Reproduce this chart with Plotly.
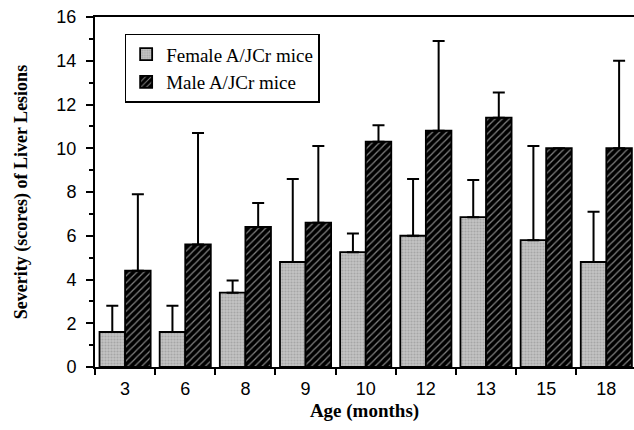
import plotly.graph_objects as go

ages = ["3", "6", "8", "9", "10", "12", "13", "15", "18"]
female = [1.6, 1.6, 3.4, 4.8, 5.25, 6.0, 6.85, 5.8, 4.8]
female_err = [1.2, 1.2, 0.55, 3.8, 0.85, 2.6, 1.7, 4.3, 2.3]
male = [4.4, 5.6, 6.4, 6.6, 10.3, 10.8, 11.4, 10.0, 10.0]
male_err = [3.5, 5.1, 1.1, 3.5, 0.75, 4.1, 1.15, None, 4.0]

fig = go.Figure()
fig.add_trace(go.Bar(
    x=ages, y=female, name="Female A/JCr mice",
    marker=dict(color="#b0b0b0", line=dict(color="black", width=1.8),
                pattern=dict(shape=".", fgcolor="#888888", bgcolor="#c4c4c4", size=3, solidity=0.4)),
    error_y=dict(type="data", array=female_err, arrayminus=[0]*len(female_err), symmetric=False,
                 color="black", thickness=2, width=6),
))
fig.add_trace(go.Bar(
    x=ages, y=male, name="Male A/JCr mice",
    marker=dict(color="black", line=dict(color="black", width=1.8),
                pattern=dict(shape="/", fgcolor="white", bgcolor="black", size=5, solidity=0.25)),
    error_y=dict(type="data", array=male_err, arrayminus=[0]*len(male_err), symmetric=False,
                 color="black", thickness=2, width=6),
))

fig.update_layout(
    width=634, height=430,
    margin=dict(l=95, r=0, t=17, b=63, autoexpand=False),
    paper_bgcolor="white", plot_bgcolor="white",
    barmode="group", bargap=0.15, bargroupgap=0,
    showlegend=True,
    legend=dict(x=0.055, y=0.952, xanchor="left", yanchor="top",
                bgcolor="white", bordercolor="black", borderwidth=1.5,
                itemwidth=30,
                font=dict(family="Liberation Serif, Times New Roman, serif", size=19, color="black"),
                tracegroupgap=0),
    font=dict(family="Liberation Sans, Arial, sans-serif", color="black"),
)
fig.update_xaxes(
    type="category", range=[-0.5, 8.46], automargin=False,
    showline=True, linecolor="black", linewidth=2, mirror=True,
    ticks="outside", tickson="boundaries", ticklen=6, tickwidth=1.5, tickcolor="black",
    ticklabelstandoff=4,
    tickfont=dict(size=18, family="Liberation Sans, Arial, sans-serif"),
    title=dict(text="<b>Age (months)</b>", standoff=6,
               font=dict(family="Liberation Serif, Times New Roman, serif", size=19)),
    showgrid=False,
)
fig.update_yaxes(
    range=[0, 16], dtick=2, tick0=0, automargin=False,
    showline=True, linecolor="black", linewidth=2,
    ticks="outside", ticklen=7, tickwidth=1.5, tickcolor="black",
    ticklabelstandoff=6,
    minor=dict(dtick=1, ticks="outside", ticklen=4, tickwidth=1.5, tickcolor="black"),
    tickfont=dict(size=18, family="Liberation Sans, Arial, sans-serif"),
    title=dict(text="<b>Severity (scores) of Liver Lesions</b>", standoff=24,
               font=dict(family="Liberation Serif, Times New Roman, serif", size=18)),
    showgrid=False, zeroline=False,
)

fig.write_html("out.html", config={"displayModeBar": False},
               post_script="document.body.style.margin='0';")
